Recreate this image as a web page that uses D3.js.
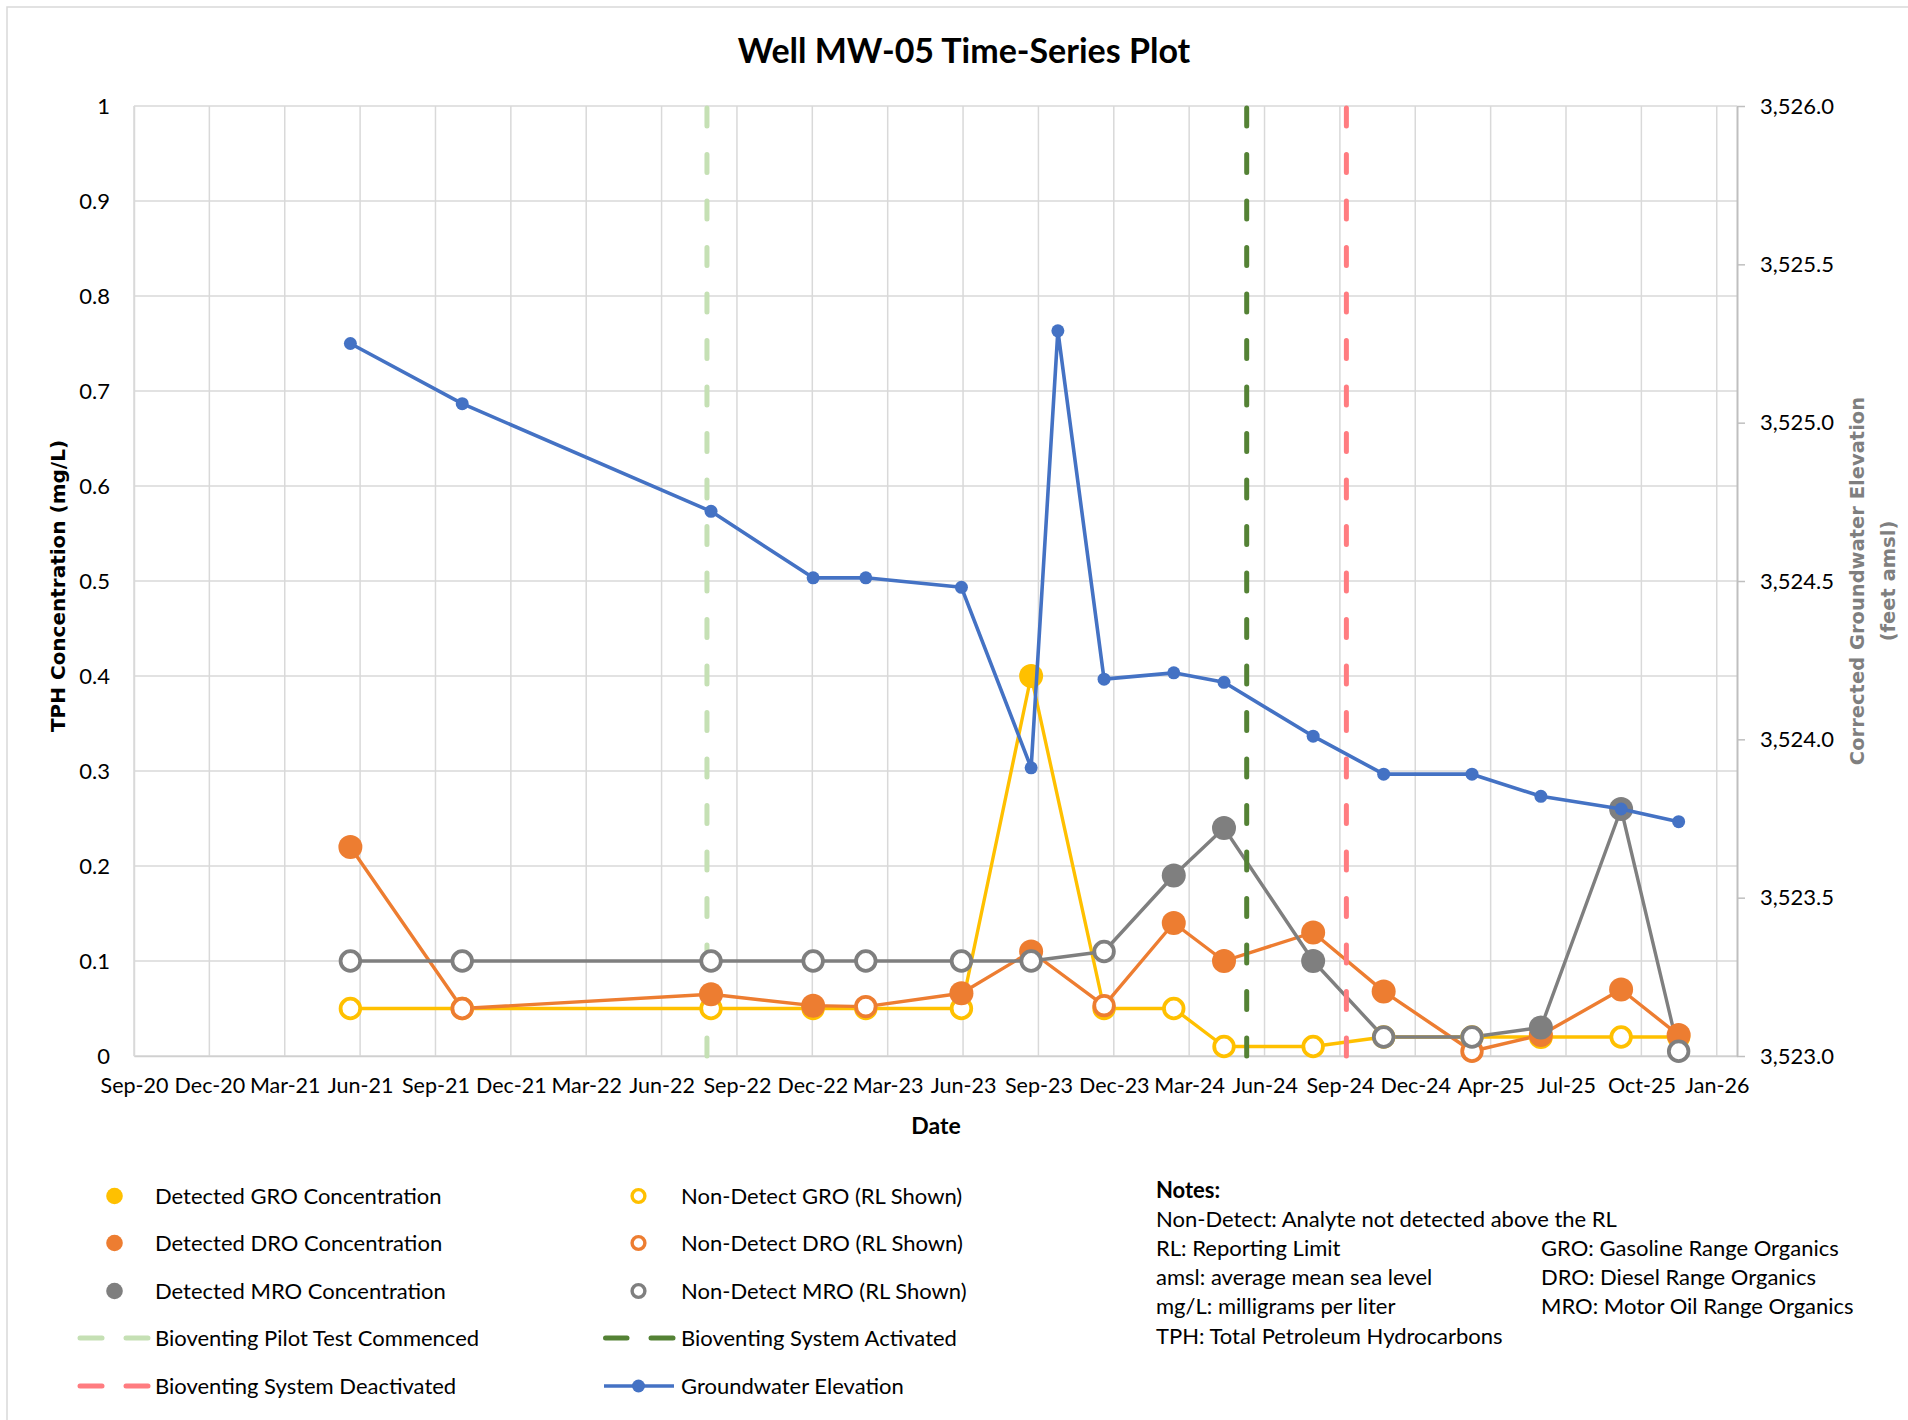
<!DOCTYPE html>
<html>
<head>
<meta charset="utf-8">
<title>Well MW-05 Time-Series Plot</title>
<script src="https://cdn.jsdelivr.net/npm/d3@7"></script>
<style>
  body { margin: 0; background: #ffffff; }
  svg text { font-family: Lato, "Noto Sans", sans-serif; fill: #000; }
  .axis-title { font-family: "DejaVu Sans", sans-serif !important; font-weight: bold; }
</style>
</head>
<body>
<svg id="chart" width="1908" height="1420"></svg>
<script>
// ---- Sampling events (concentrations in mg/L; 1 = detected, 0 = non-detect at RL) ----
const sampleDates = ["2021-05-26","2021-10-11","2022-08-14","2022-12-18","2023-02-21","2023-06-19",
                     "2023-09-13","2023-12-12","2024-03-07","2024-05-08","2024-08-26","2024-11-21",
                     "2025-03-10","2025-06-03","2025-09-10","2025-11-20"];
const groValues   = [0.05,0.05,0.05,0.05,0.05,0.05,0.40,0.05,0.05,0.01,0.01,0.02,0.02,0.02,0.02,0.02];
const groDetected = [0,0,0,0,0,0,1,0,0,0,0,0,0,1,0,0];
const droValues   = [0.22,0.05,0.065,0.053,0.052,0.066,0.11,0.053,0.14,0.10,0.13,0.068,0.005,0.022,0.07,0.022];
const droDetected = [1,0,1,1,0,1,1,0,1,1,1,1,0,1,1,1];
const mroValues   = [0.10,0.10,0.10,0.10,0.10,0.10,0.10,0.11,0.19,0.24,0.10,0.02,0.02,0.03,0.26,0.005];
const mroDetected = [0,0,0,0,0,0,0,0,1,1,1,0,0,1,1,0];

// ---- Groundwater elevation (feet amsl) ----
const gwDates  = ["2021-05-26","2021-10-11","2022-08-14","2022-12-18","2023-02-21","2023-06-19",
                  "2023-09-13","2023-10-16","2023-12-12","2024-03-07","2024-05-08","2024-08-26",
                  "2024-11-21","2025-03-10","2025-06-03","2025-09-10","2025-11-20"];
const gwValues = [3525.25,3525.06,3524.72,3524.51,3524.51,3524.48,3523.91,3525.29,3524.19,
                  3524.21,3524.18,3524.01,3523.89,3523.89,3523.82,3523.78,3523.74];

// ---- Remediation milestones ----
const eventDates  = ["2022-08-09","2024-06-05","2024-10-06"];
const eventNames  = ["Bioventing Pilot Test Commenced","Bioventing System Activated","Bioventing System Deactivated"];

// ---- Axes ----
const xTickLabels = ["Sep-20","Dec-20","Mar-21","Jun-21","Sep-21","Dec-21","Mar-22","Jun-22","Sep-22",
                     "Dec-22","Mar-23","Jun-23","Sep-23","Dec-23","Mar-24","Jun-24","Sep-24","Dec-24",
                     "Apr-25","Jul-25","Oct-25","Jan-26"];
const leftTicks   = [0,0.1,0.2,0.3,0.4,0.5,0.6,0.7,0.8,0.9,1];
const rightTicks  = [3523.0,3523.5,3524.0,3524.5,3525.0,3525.5,3526.0];

const noteLines = ["Non-Detect: Analyte not detected above the RL","RL: Reporting Limit","amsl: average mean sea level",
                   "mg/L: milligrams per liter","TPH: Total Petroleum Hydrocarbons"];
const noteLines2 = ["GRO: Gasoline Range Organics","DRO: Diesel Range Organics","MRO: Motor Oil Range Organics"];

// ---------------------------------------------------------------------------
const parse = d3.utcParse("%Y-%m-%d");
const svg = d3.select("#chart");

const plot = { left: 134, right: 1737, top: 106, bottom: 1056 };
const axisStart = parse("2020-09-01");
const x  = d3.scaleUtc().domain([axisStart, parse("2026-01-31")]).range([plot.left, plot.right]);
const yL = d3.scaleLinear().domain([0, 1]).range([plot.bottom, plot.top]);
const yR = d3.scaleLinear().domain([3523, 3526]).range([plot.bottom, plot.top]);

// Date axis uses a fixed 93-day major unit
const xTickDates = xTickLabels.map((_, i) => d3.utcDay.offset(axisStart, 93 * i));

const C = { gro: "#FFC000", dro: "#ED7D31", mro: "#7F7F7F", gw: "#4472C4",
            grid: "#D9D9D9", ev: ["#C5E0B4", "#548235", "#FF7C80"] };

// chart frame
svg.append("rect").attr("x", 7).attr("y", 7).attr("width", 1940).attr("height", 1440)
  .attr("fill", "none").attr("stroke", "#D9D9D9").attr("stroke-width", 1.5);

// title
svg.append("text").attr("x", 964).attr("y", 51).attr("dy", "0.35em")
  .attr("text-anchor", "middle").style("font-weight", "bold").style("font-size", "34px")
  .text("Well MW-05 Time-Series Plot");

// gridlines
const grid = svg.append("g");
grid.selectAll("line.h").data(leftTicks).join("line")
  .attr("x1", plot.left).attr("x2", plot.right)
  .attr("y1", d => yL(d)).attr("y2", d => yL(d))
  .attr("stroke", C.grid).attr("stroke-width", 1.5);
grid.selectAll("line.v").data(xTickDates).join("line")
  .attr("x1", d => x(d)).attr("x2", d => x(d))
  .attr("y1", plot.top).attr("y2", plot.bottom)
  .attr("stroke", C.grid).attr("stroke-width", 1.5);

// axes
const fmtLeft = d3.format("~g");
const gx = svg.append("g").attr("transform", `translate(0,${plot.bottom})`)
  .call(d3.axisBottom(x).tickValues(xTickDates).tickFormat((d, i) => xTickLabels[i])
        .tickSize(0).tickPadding(22));
gx.select(".domain").attr("stroke", "#D0D0D0").attr("stroke-width", 1.5);

const gl = svg.append("g").attr("transform", `translate(${plot.left},0)`)
  .call(d3.axisLeft(yL).tickValues(leftTicks).tickFormat(fmtLeft).tickSize(0).tickPadding(24));
gl.select(".domain").attr("stroke", C.grid).attr("stroke-width", 1.5);

const gr = svg.append("g").attr("transform", `translate(${plot.right},0)`)
  .call(d3.axisRight(yR).tickValues(rightTicks).tickFormat(d3.format(",.1f"))
        .tickSize(8).tickSizeOuter(0).tickPadding(15));
gr.select(".domain").attr("stroke", "#BFBFBF").attr("stroke-width", 2);
gr.selectAll(".tick line").attr("stroke", "#BFBFBF").attr("stroke-width", 1.5);

svg.selectAll(".tick text").style("font-size", "22px").style("font-family", "Lato, sans-serif").attr("fill", "#000");
gx.selectAll(".tick text").style("font-size", "21.5px");

// axis titles
svg.append("text").attr("class", "axis-title")
  .attr("transform", "translate(58,586) rotate(-90)").attr("text-anchor", "middle").attr("dy", "0.35em")
  .style("font-size", "20px").text("TPH Concentration (mg/L)");
const rt = svg.append("text").attr("class", "axis-title")
  .attr("transform", "translate(1857,581) rotate(-90)").attr("text-anchor", "middle").attr("dy", "0.35em")
  .style("font-size", "19.5px").attr("fill", "#7F7F7F");
rt.append("tspan").attr("x", 0).attr("dy", "0.35em").text("Corrected Groundwater Elevation");
rt.append("tspan").attr("x", 0).attr("dy", "1.6em").text("(feet amsl)");
rt.selectAll("tspan").attr("fill", "#7F7F7F");
svg.append("text").attr("x", 936).attr("y", 1126).attr("dy", "0.35em").attr("text-anchor", "middle")
  .style("font-weight", "bold").style("font-size", "23px").text("Date");

// concentration series
const series = [
  { key: "gro", vals: groValues, det: groDetected, color: C.gro },
  { key: "dro", vals: droValues, det: droDetected, color: C.dro },
  { key: "mro", vals: mroValues, det: mroDetected, color: C.mro }
].map(s => ({ ...s, pts: sampleDates.map((d, i) => ({ date: parse(d), v: s.vals[i], det: s.det[i] })) }));

const lineL = d3.line().x(d => x(d.date)).y(d => yL(d.v));
svg.append("g").selectAll("path").data(series).join("path")
  .attr("d", s => lineL(s.pts)).attr("fill", "none")
  .attr("stroke", s => s.color).attr("stroke-width", 3.4).attr("stroke-linejoin", "round");

// milestone lines
svg.append("g").selectAll("line").data(eventDates).join("line")
  .attr("x1", d => x(parse(d))).attr("x2", d => x(parse(d)))
  .attr("y1", yL(0)).attr("y2", yL(1))
  .attr("stroke", (d, i) => C.ev[i]).attr("stroke-width", 5)
  .attr("stroke-linecap", "round").attr("stroke-dasharray", "18,28.5");

// markers
series.forEach(s => {
  const g = svg.append("g");
  g.selectAll("circle").data(s.pts).join("circle")
    .attr("cx", d => x(d.date)).attr("cy", d => yL(d.v))
    .attr("r", d => d.det ? 12 : 9.8)
    .attr("fill", d => d.det ? s.color : "#FFFFFF")
    .attr("stroke", d => d.det ? "none" : s.color)
    .attr("stroke-width", 3.8);
});

// groundwater elevation
const gwPts = gwDates.map((d, i) => ({ date: parse(d), v: gwValues[i] }));
const lineR = d3.line().x(d => x(d.date)).y(d => yR(d.v));
svg.append("path").attr("d", lineR(gwPts)).attr("fill", "none")
  .attr("stroke", C.gw).attr("stroke-width", 3.6).attr("stroke-linejoin", "round");
svg.append("g").selectAll("circle").data(gwPts).join("circle")
  .attr("cx", d => x(d.date)).attr("cy", d => yR(d.v)).attr("r", 6.5).attr("fill", C.gw);

// legend
const legendRows = [1196, 1243, 1291, 1338, 1386];
const leg = svg.append("g").style("font-size", "22px");
const markerItems = [
  { col: 0, row: 0, color: C.gro, det: 1, label: "Detected GRO Concentration" },
  { col: 0, row: 1, color: C.dro, det: 1, label: "Detected DRO Concentration" },
  { col: 0, row: 2, color: C.mro, det: 1, label: "Detected MRO Concentration" },
  { col: 1, row: 0, color: C.gro, det: 0, label: "Non-Detect GRO (RL Shown)" },
  { col: 1, row: 1, color: C.dro, det: 0, label: "Non-Detect DRO (RL Shown)" },
  { col: 1, row: 2, color: C.mro, det: 0, label: "Non-Detect MRO (RL Shown)" }
];
const colMarkerX = [114.5, 638.5], colTextX = [155, 681];
markerItems.forEach(it => {
  const cy = legendRows[it.row];
  leg.append("circle").attr("cx", colMarkerX[it.col]).attr("cy", cy)
    .attr("r", it.det ? 8.3 : 6.4)
    .attr("fill", it.det ? it.color : "#FFFFFF")
    .attr("stroke", it.det ? "none" : it.color).attr("stroke-width", 3.4);
  leg.append("text").attr("x", colTextX[it.col]).attr("y", cy).attr("dy", "0.35em").text(it.label);
});
const dashItems = [
  { col: 0, row: 3, color: C.ev[0], label: eventNames[0] },
  { col: 1, row: 3, color: C.ev[1], label: eventNames[1] },
  { col: 0, row: 4, color: C.ev[2], label: eventNames[2] }
];
const dashX = [[80, 102, 126, 148], [605.5, 627, 651, 673]];
dashItems.forEach(it => {
  const cy = legendRows[it.row], dx = dashX[it.col];
  [[dx[0], dx[1]], [dx[2], dx[3]]].forEach(seg => {
    leg.append("line").attr("x1", seg[0]).attr("x2", seg[1]).attr("y1", cy).attr("y2", cy)
      .attr("stroke", it.color).attr("stroke-width", 5).attr("stroke-linecap", "round");
  });
  leg.append("text").attr("x", colTextX[it.col]).attr("y", cy).attr("dy", "0.35em").text(it.label);
});
leg.append("line").attr("x1", 604).attr("x2", 674).attr("y1", legendRows[4]).attr("y2", legendRows[4])
  .attr("stroke", C.gw).attr("stroke-width", 3.5);
leg.append("circle").attr("cx", 638.5).attr("cy", legendRows[4]).attr("r", 6.5).attr("fill", C.gw);
leg.append("text").attr("x", colTextX[1]).attr("y", legendRows[4]).attr("dy", "0.35em").text("Groundwater Elevation");

// notes
const notes = svg.append("g").style("font-size", "22px");
notes.append("text").attr("x", 1156).attr("y", 1190).attr("dy", "0.35em")
  .style("font-weight", "bold").text("Notes:");
noteLines.forEach((t, i) => notes.append("text").attr("x", 1156).attr("y", 1219 + i * 29.2).attr("dy", "0.35em").text(t));
noteLines2.forEach((t, i) => notes.append("text").attr("x", 1541).attr("y", 1248.2 + i * 29.2).attr("dy", "0.35em").text(t));
</script>
</body>
</html>
